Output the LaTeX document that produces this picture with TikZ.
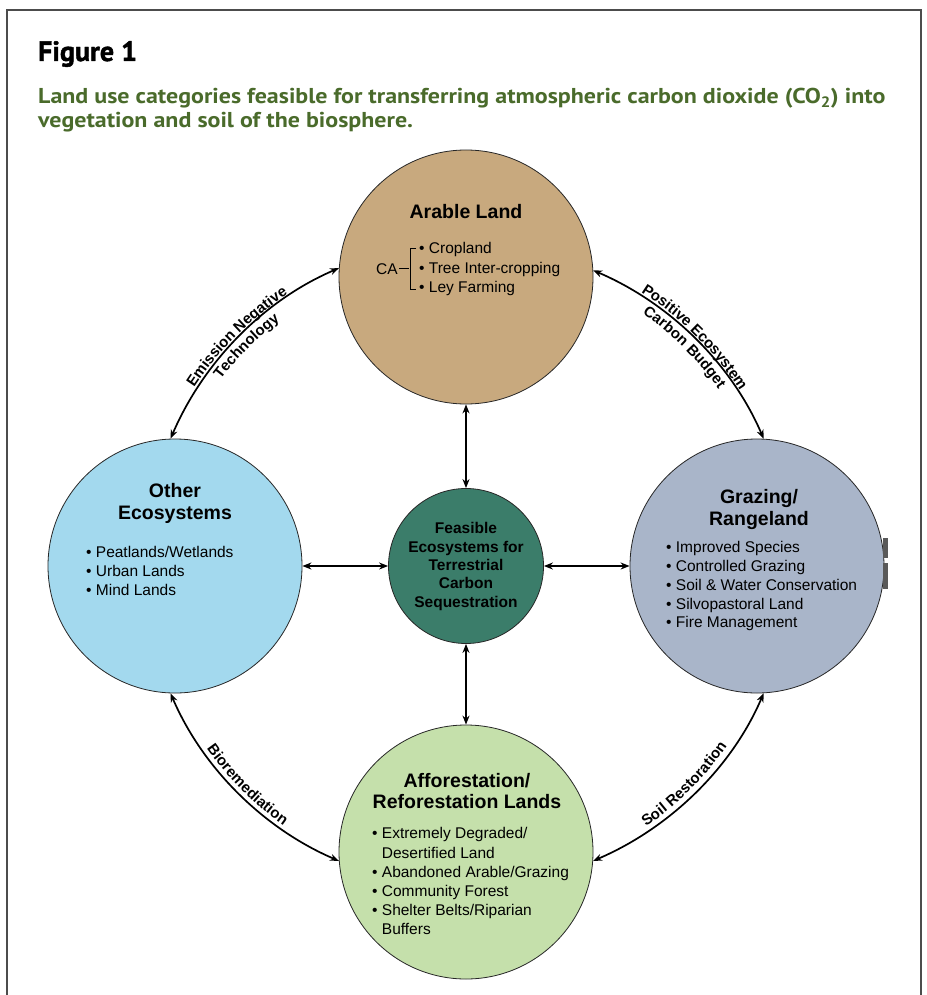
\documentclass[tikz,border=0pt]{standalone}
\usepackage{fontspec}
\setmainfont{Liberation Sans}
\newfontfamily\capfont[FakeStretch=1.115]{PT Sans}
\newfontfamily\headfont[BoldFeatures={FakeBold=1.5}]{PT Sans}
\usetikzlibrary{arrows.meta,decorations.text}
\definecolor{arablec}{HTML}{C8A97E}
\definecolor{otherc}{HTML}{A3D9EE}
\definecolor{grazc}{HTML}{A9B5C9}
\definecolor{hubc}{HTML}{3B7D6A}
\definecolor{affc}{HTML}{C5E0AB}
\definecolor{capgreen}{HTML}{4A6B2B}
\newcommand\lblfont{\bfseries\fontsize{15}{18}\selectfont}
\begin{document}
\begin{tikzpicture}[x=1pt,y=1pt,
  land/.style={circle,draw=black!85,line width=0.8pt,minimum size=254pt,inner sep=0pt},
  hub/.style={circle,draw=black!85,line width=0.8pt,minimum size=155pt,inner sep=0pt,fill=hubc},
  ttl/.style={font=\bfseries\fontsize{19.5}{22}\selectfont,align=center,inner sep=0pt,anchor=north},
  blist/.style={font=\fontsize{15.5}{19}\selectfont,align=left,inner sep=0pt,anchor=north west},
  link/.style={line width=1.7pt,{Stealth[length=9pt,width=7pt]}-{Stealth[length=9pt,width=7pt]}},
  lbl/.style={decorate,decoration={text along path,text align=center,text={#1}}},
  capline/.style={anchor=base west,inner sep=0pt,text=capgreen,font=\capfont\bfseries\fontsize{21.5}{24}\selectfont},
]
\useasboundingbox (0,0) rectangle (926,-995);
\fill[white] (0,0) rectangle (926,-995);
% frame
\draw[black!70,line width=1.2pt] (7,-995) -- (7,-10) -- (921,-10) -- (921,-995);
% heading
\node[anchor=base west,inner sep=0pt,font=\headfont\bfseries\fontsize{28}{28}\selectfont] (fig) at (38,-61) {Figure 1};
\node[capline] (cap1) at (38,-104) {Land use categories feasible for transferring atmospheric carbon dioxide (CO\textsubscript{2}) into};
\node[capline] (cap2) at (38,-128) {vegetation and soil of the biosphere.};
% circles
\node[land,fill=arablec] (arable) at (466,-277) {};
\node[land,fill=otherc] (other) at (175,-566) {};
\node[hub] (hub) at (466,-566) {};
\node[land,fill=grazc] (graz) at (757,-566) {};
\node[land,fill=affc] (aff) at (466,-852) {};
\fill[black!65] (883,-538) rectangle (888,-558);
\fill[black!65] (883,-563) rectangle (888,-589);
% straight connectors
\draw[link] (arable) -- (hub);
\draw[link] (other) -- (hub);
\draw[link] (hub) -- (graz);
\draw[link] (hub) -- (aff);
% arc connectors
\draw[link] (other.92.3) to[out=66.8,in=203.2,looseness=0.88] (arable.176.8);
\draw[link] (arable.3.2) to[out=-23.2,in=113.2,looseness=0.88] (graz.87.7);
\draw[link] (graz.-87.7) to[out=-113.2,in=23.2,looseness=0.88] (aff.-4.6);
\draw[link] (aff.184.6) to[out=156.8,in=-66.8,looseness=0.88] (other.-92.3);
% arc labels
\path[lbl={|\lblfont|Emission Negative}] ([shift={(180:325)}]hub.center) arc[start angle=180,end angle=90,radius=325];
\path[lbl={|\lblfont|Technology}] ([shift={(180:308)}]hub.center) arc[start angle=180,end angle=90,radius=308];
\path[lbl={|\lblfont|Positive Ecosystem}] ([shift={(90:325)}]hub.center) arc[start angle=90,end angle=0,radius=325];
\path[lbl={|\lblfont|Carbon Budget}] ([shift={(90:308)}]hub.center) arc[start angle=90,end angle=0,radius=308];
\path[lbl={|\lblfont|Bioremediation}] ([shift={(-180:317)}]hub.center) arc[start angle=-180,end angle=-90,radius=317];
\path[lbl={|\lblfont|Soil Restoration}] ([shift={(-90:317)}]hub.center) arc[start angle=-90,end angle=0,radius=317];
% Arable text
\node[ttl,anchor=center] (arableT) at (466,-212) {Arable Land};
\node[inner sep=0pt,font=\fontsize{15.5}{19}\selectfont] (caT) at (387,-269) {CA};
\draw[line width=1pt] (399,-268.5) -- (409,-268.5);
\draw[line width=1pt] (416,-248) -- (410,-248) -- (410,-289) -- (416,-289);
\node[blist,font=\fontsize{15.5}{19.5}\selectfont] (arableL) at (419,-242.5) {\textbullet\ Cropland\\\textbullet\ Tree Inter-cropping\\\textbullet\ Ley Farming};
% Other text
\node[ttl] (otherT) at (175,-483) {Other\\Ecosystems};
\node[blist] (otherL) at (86,-546.5) {\textbullet\ Peatlands/Wetlands\\\textbullet\ Urban Lands\\\textbullet\ Mind Lands};
% Hub text
\node[inner sep=0pt,anchor=north,align=center,font=\bfseries\fontsize{15.5}{18.3}\selectfont] (hubT) at (466,-522.5) {Feasible\\Ecosystems for\\Terrestrial\\Carbon\\Sequestration};
% Grazing text
\node[ttl] (grazT) at (759,-489) {Grazing/\\Rangeland};
\node[blist,font=\fontsize{15.5}{18.7}\selectfont] (grazL) at (666,-541.5) {\textbullet\ Improved Species\\\textbullet\ Controlled Grazing\\\textbullet\ Soil \& Water Conservation\\\textbullet\ Silvopastoral Land\\\textbullet\ Fire Management};
% Afforestation text
\node[ttl,font=\bfseries\fontsize{19.5}{21}\selectfont] (affT) at (467,-773) {Afforestation/\\Reforestation Lands};
\node[blist,font=\fontsize{15.5}{19.2}\selectfont] (affL) at (372,-827.5) {\textbullet\ Extremely Degraded/\\\phantom{\textbullet\ }Desertified Land\\\textbullet\ Abandoned Arable/Grazing\\\textbullet\ Community Forest\\\textbullet\ Shelter Belts/Riparian\\\phantom{\textbullet\ }Buffers};
\end{tikzpicture}
\end{document}
